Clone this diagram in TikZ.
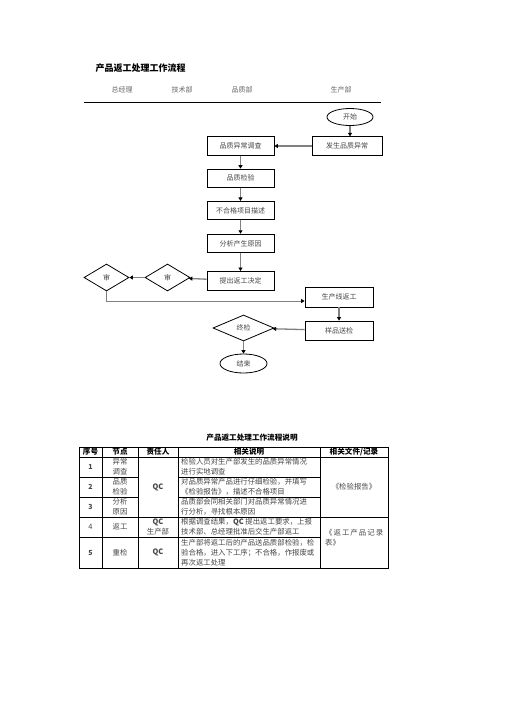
\documentclass[tikz,border=0pt]{standalone}
\usepackage{fontspec}
\usetikzlibrary{arrows.meta, positioning, shapes.geometric}
\newfontfamily\cjk{Noto Sans CJK SC}
\definecolor{flowgray}{RGB}{128,128,128}
\definecolor{lanegray}{RGB}{100,100,100}
\definecolor{celltext}{RGB}{70,70,70}

\begin{document}
\begin{tikzpicture}[x=1pt, y=-1pt,
  font=\cjk\fontsize{7}{8.5}\selectfont,
  box/.style={draw, line width=0.8pt, minimum width=67pt, minimum height=18.5pt, inner sep=1pt, text=celltext},
  dec/.style={draw, diamond, line width=0.8pt, inner sep=0pt, minimum width=45pt, minimum height=27pt, text=celltext},
  term/.style={draw, ellipse, line width=0.8pt, inner sep=0pt, minimum width=46pt, minimum height=17pt, text=celltext},
  arr/.style={flowgray, line width=1.3pt, -{Triangle[length=3.5pt, width=4pt, color=black]}},
  lane/.style={lanegray, font=\cjk\fontsize{7}{8}\selectfont},
  head/.style={font=\cjk\bfseries\fontsize{7.6}{9}\selectfont, inner sep=0pt},
  cell/.style={celltext, font=\cjk\fontsize{7.4}{10}\selectfont, align=left, inner sep=0pt},
  mid/.style={cell, align=center},
  rule/.style={line width=0.8pt},
]
  \useasboundingbox (0,0) rectangle (504,713);

  % title and lanes
  \node[font=\cjk\bfseries\fontsize{9}{10}\selectfont, anchor=west] (title) at (92,68) {产品返工处理工作流程};
  \node[lane] (gm)   at (122,90) {总经理};
  \node[lane] (tech) at (182,90) {技术部};
  \node[lane] (qa)   at (242,90) {品质部};
  \node[lane] (prod) at (341,90) {生产部};
  \draw[line width=0.9pt] (84,102.5) -- (381,102.5);

  % flow
  \node[term] (start) at (350,117) {开始};
  \node[box, minimum width=70pt] (occur) at (347,146) {发生品质异常};
  \node[box] (inv) at (240.5,146) {品质异常调查};
  \node[box, below=13pt of inv]   (chk)    {品质检验};
  \node[box, below=13pt of chk]   (desc)   {不合格项目描述};
  \node[box, below=13.5pt of desc] (cause) {分析产生原因};
  \node[box, below=18pt of cause] (decide) {提出返工决定};
  \node[dec] (revB) at (167.5,277.5) {审};
  \node[dec] (revA) at (106.5,277.5) {审};
  \node[box, minimum width=68pt, minimum height=20pt] (rework) at (339,297) {生产线返工};
  \node[box, minimum width=68pt, minimum height=19pt] (sample) at (339,330.5) {样品送检};
  \node[dec, minimum width=61pt, minimum height=26pt] (final) at (243.5,328) {终检};
  \node[term, minimum width=47pt, minimum height=19pt] (finish) at (243.5,363.5) {结束};

  \draw[arr] (start) -- (start |- occur.north);
  \draw[arr] (occur) -- (inv);
  \draw[arr] (inv) -- (chk);
  \draw[arr] (chk) -- (desc);
  \draw[arr] (desc) -- (cause);
  \draw[arr] (cause) -- (decide);
  \draw[arr] (decide) -- (revB);
  \draw[arr] (revB) -- (revA);
  \draw[arr, line width=1pt] (revA.south) |- ([yshift=-4pt]rework.west);
  \draw[arr] (rework) -- (sample);
  \draw[arr] (sample) -- (final);
  \draw[arr] (final) -- (finish);

  % table
  \node[head] (tabtitle) at (252,438) {产品返工处理工作流程说明};
  \draw[rule] (79,447) rectangle (388,568);
  \draw[rule] (79,457) -- (388,457);
  \draw[rule] (79,517) -- (388,517);
  \draw[rule] (79,537) -- (320,537);
  \draw[rule] (79,477) -- (138,477) (178,477) -- (320,477);
  \draw[rule] (79,497) -- (138,497) (178,497) -- (320,497);
  \foreach \x in {102,138,178,320}
    \draw[rule] (\x,447) -- (\x,568);

  \node[head] (hNo)   at (90.5,452) {序号};
  \node[head] (hStep) at (120,452) {节点};
  \node[head] (hWho)  at (158,452) {责任人};
  \node[head] (hDesc) at (249,452) {相关说明};
  \node[head] (hDoc)  at (354,452) {相关文件/记录};

  \node[mid, font=\cjk\bfseries\fontsize{7}{9}\selectfont] (n1) at (90.5,467) {1};
  \node[mid, font=\cjk\bfseries\fontsize{7}{9}\selectfont] (n2) at (90.5,487) {2};
  \node[mid, font=\cjk\bfseries\fontsize{7}{9}\selectfont] (n3) at (90.5,507) {3};
  \node[mid] (n4) at (90.5,527) {4};
  \node[mid, font=\cjk\bfseries\fontsize{7}{9}\selectfont] (n5) at (90.5,552.5) {5};

  \node[mid] (s1) at (120,467) {异常\\调查};
  \node[mid] (s2) at (120,487) {品质\\检验};
  \node[mid] (s3) at (120,507) {分析\\原因};
  \node[mid] (s4) at (120,527) {返工};
  \node[mid] (s5) at (120,552.5) {重检};

  \node[mid] (w1) at (158,487) {\textbf{QC}};
  \node[mid] (w4) at (158,527) {\textbf{QC}\\生产部};
  \node[mid] (w5) at (158,552.5) {\textbf{QC}};

  \node[cell, anchor=west] (d1) at (181,467) {检验人员对生产部发生的品质异常情况\\进行实地调查};
  \node[cell, anchor=west] (d2) at (181,487) {对品质异常产品进行仔细检验，并填写\\《检验报告》，描述不合格项目};
  \node[cell, anchor=west] (d3) at (181,507) {品质部会同相关部门对品质异常情况进\\行分析，寻找根本原因};
  \node[cell, anchor=west] (d4) at (181,527) {根据调查结果，\textbf{QC} 提出返工要求，上报\\技术部、总经理批准后交生产部返工};
  \node[cell, anchor=west] (d5) at (181,552.5) {生产部将返工后的产品送品质部检验，检\\验合格，进入下工序；不合格，作报废或\\再次返工处理};

  \node[mid] (f1) at (354,487) {《检验报告》};
  \node[cell, anchor=west] (f4) at (325,537.5) {\makebox[58pt][s]{《\hfill 返\hfill 工\hfill 产\hfill 品\hfill 记\hfill 录}\\表》};
\end{tikzpicture}
\end{document}
